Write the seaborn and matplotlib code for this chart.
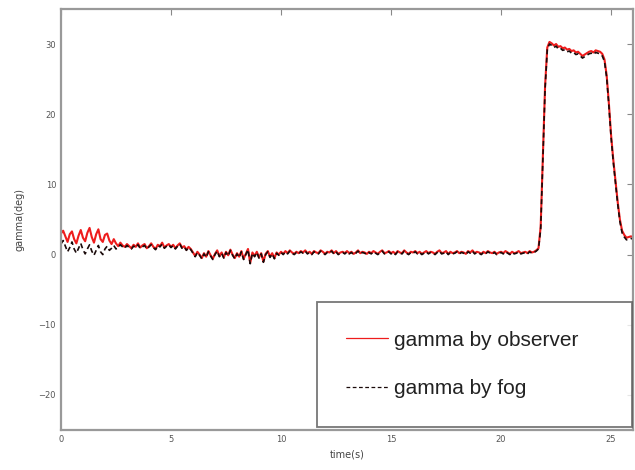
import numpy as np
import pandas as pd
import matplotlib
matplotlib.use("Agg")
import matplotlib.pyplot as plt
import seaborn as sns

# sample times (s), 0.1 s spacing
time_s = [round(0.1 * i, 1) for i in range(261)]

# roll angle estimated by the observer (deg)
gamma_observer = [
    3.0, 3.4, 2.6, 1.8, 2.9, 3.3, 2.2, 1.6, 2.7, 3.5,
    2.4, 1.9, 3.1, 3.8, 2.5, 1.7, 2.9, 3.6, 2.2, 1.8,
    2.8, 3.0, 2.0, 1.5, 2.2, 1.6, 1.2, 1.7, 1.3, 1.1,
    1.5, 1.2, 0.9, 1.4, 1.1, 1.6, 1.0, 1.3, 1.5, 0.9,
    1.2, 1.6, 1.1, 0.8, 1.4, 1.2, 1.7, 1.0, 1.3, 1.5,
    1.1, 1.4, 0.9, 1.3, 1.6, 1.0, 1.2, 0.7, 1.1, 0.8,
    0.3, -0.2, 0.4, 0.0, -0.5, 0.2, -0.3, 0.5, -0.1, -0.6,
    0.1, 0.6, -0.2, 0.3, -0.4, 0.4, -0.1, 0.7, 0.0, -0.5,
    0.2, -0.3, 0.5, -0.6, 0.1, 0.8, -1.2, 0.3, -0.2, 0.4,
    -0.4, 0.2, -1.0, 0.1, 0.5, -0.3, 0.2, -0.5, 0.3, 0.0,
    0.4, 0.1, 0.5, 0.2, 0.6, 0.3, 0.1, 0.4, 0.2, 0.5,
    0.3, 0.6, 0.2, 0.4, 0.1, 0.5, 0.3, 0.2, 0.6, 0.4,
    0.1, 0.4, 0.3, 0.6, 0.2, 0.5, 0.1, 0.3, 0.4, 0.2,
    0.5, 0.2, 0.4, 0.1, 0.3, 0.6, 0.2, 0.4, 0.3, 0.1,
    0.4, 0.2, 0.5, 0.3, 0.1, 0.4, 0.6, 0.2, 0.3, 0.5,
    0.2, 0.4, 0.1, 0.5, 0.3, 0.2, 0.6, 0.3, 0.1, 0.4,
    0.3, 0.5, 0.2, 0.4, 0.1, 0.3, 0.5, 0.2, 0.4, 0.3,
    0.1, 0.4, 0.6, 0.2, 0.3, 0.5, 0.1, 0.4, 0.2, 0.3,
    0.5, 0.2, 0.4, 0.3, 0.1, 0.5, 0.3, 0.6, 0.2, 0.4,
    0.3, 0.1, 0.4, 0.2, 0.5, 0.3, 0.2, 0.4, 0.1, 0.3,
    0.4, 0.2, 0.5, 0.3, 0.1, 0.4, 0.2, 0.3, 0.5, 0.2,
    0.3, 0.4, 0.2, 0.5, 0.3, 0.4, 0.6, 0.9, 4.0, 14.0,
    24.0, 29.5, 30.3, 30.1, 29.8, 30.0, 29.6, 29.7, 29.4, 29.5,
    29.2, 29.3, 29.0, 29.1, 28.8, 28.9, 28.6, 28.3, 28.5, 28.7,
    28.9, 29.0, 28.8, 29.1, 29.0, 28.9, 28.6, 27.8, 25.5, 21.5,
    17.0, 13.5, 10.5, 7.5, 5.0, 3.4, 2.8, 2.4, 2.5, 2.6,
    2.5,
]

# roll angle from the fibre-optic gyro (deg)
gamma_fog = [
    1.5, 2.0, 1.2, 0.4, 1.0, 1.8, 0.8, 0.2, 0.9, 1.6,
    0.7, 0.1, 0.8, 1.4, 0.5, -0.1, 0.6, 1.3, 0.4, 0.0,
    0.8, 1.2, 0.6, 0.9, 1.3, 0.8, 1.0, 1.4, 1.1, 0.9,
    1.3, 1.0, 0.8, 1.2, 1.0, 1.4, 0.9, 1.1, 1.3, 0.8,
    1.1, 1.4, 1.0, 0.7, 1.3, 1.1, 1.5, 0.9, 1.2, 1.4,
    1.0, 1.3, 0.8, 1.2, 1.5, 0.9, 1.1, 0.6, 1.0, 0.7,
    0.2, -0.3, 0.3, -0.1, -0.6, 0.1, -0.4, 0.4, -0.2, -0.7,
    0.0, 0.5, -0.3, 0.2, -0.5, 0.3, -0.2, 0.6, -0.1, -0.6,
    0.1, -0.4, 0.4, -0.7, 0.0, 0.7, -1.3, 0.2, -0.3, 0.3,
    -0.5, 0.1, -1.1, 0.0, 0.4, -0.4, 0.1, -0.6, 0.2, -0.1,
    0.3, 0.0, 0.4, 0.1, 0.5, 0.2, 0.0, 0.3, 0.1, 0.4,
    0.2, 0.5, 0.1, 0.3, 0.0, 0.4, 0.2, 0.1, 0.5, 0.3,
    0.0, 0.3, 0.2, 0.5, 0.1, 0.4, 0.0, 0.2, 0.3, 0.1,
    0.4, 0.1, 0.3, 0.0, 0.2, 0.5, 0.1, 0.3, 0.2, 0.0,
    0.3, 0.1, 0.4, 0.2, 0.0, 0.3, 0.5, 0.1, 0.2, 0.4,
    0.1, 0.3, 0.0, 0.4, 0.2, 0.1, 0.5, 0.2, 0.0, 0.3,
    0.2, 0.4, 0.1, 0.3, 0.0, 0.2, 0.4, 0.1, 0.3, 0.2,
    0.0, 0.3, 0.5, 0.1, 0.2, 0.4, 0.0, 0.3, 0.1, 0.2,
    0.4, 0.1, 0.3, 0.2, 0.0, 0.4, 0.2, 0.5, 0.1, 0.3,
    0.2, 0.0, 0.3, 0.1, 0.4, 0.2, 0.1, 0.3, 0.0, 0.2,
    0.3, 0.1, 0.4, 0.2, 0.0, 0.3, 0.1, 0.2, 0.4, 0.1,
    0.2, 0.3, 0.1, 0.4, 0.2, 0.3, 0.5, 0.8, 3.6, 13.5,
    23.6, 29.2, 30.0, 29.8, 29.5, 29.7, 29.3, 29.4, 29.1, 29.2,
    28.9, 29.0, 28.7, 28.8, 28.5, 28.6, 28.3, 28.0, 28.2, 28.4,
    28.6, 28.7, 28.5, 28.8, 28.7, 28.6, 28.3, 27.5, 25.2, 21.2,
    16.7, 13.2, 10.2, 7.2, 4.7, 3.1, 2.5, 2.1, 2.2, 2.3,
    2.2,
]

x_ticks = [0, 5, 10, 15, 20, 25]
y_ticks = [-20, -10, 0, 10, 20, 30]

df = pd.DataFrame({"time": time_s, "observer": gamma_observer, "fog": gamma_fog})

sns.set_style("white")
plt.rcParams["font.family"] = ["DejaVu Sans"]

fig = plt.figure(figsize=(6.35, 4.70), dpi=100)
ax = fig.add_axes([0.096, 0.085, 0.901, 0.896])

sns.lineplot(data=df, x="time", y="observer", ax=ax, color="#ee1c1c",
             linewidth=1.5, label="gamma by observer")
sns.lineplot(data=df, x="time", y="fog", ax=ax, color="#1a0a0a",
             linewidth=1.2, dashes=False, label="gamma by fog")
ax.lines[1].set_linestyle((0, (3, 2)))

ax.set_xlim(0, 26.0)
ax.set_ylim(-25, 35)
ax.set_xticks(x_ticks)
ax.set_yticks(y_ticks)
ax.tick_params(axis="both", direction="in", length=4, width=0.8,
               colors="#888888", labelcolor="#555555", labelsize=6,
               top=True, right=True)
for s in ax.spines.values():
    s.set_color("#999999")
    s.set_linewidth(1.6)

ax.set_xlabel("time(s)", fontsize=7, color="#444444", labelpad=4)
ax.set_ylabel("gamma(deg)", fontsize=7, color="#444444", labelpad=10)

leg = ax.legend(loc="lower left", bbox_to_anchor=(0.447, 0.007, 0.551, 0.3),
                mode="expand", frameon=True, fancybox=False,
                handlelength=2.0, handletextpad=0.3,
                borderpad=1.4, labelspacing=1.4, borderaxespad=0.0,
                prop={"family": ["Liberation Sans", "DejaVu Sans"], "size": 15})
leg.get_frame().set_edgecolor("#555555")
leg.get_frame().set_linewidth(1.3)
for line in leg.get_lines():
    line.set_linewidth(0.9)
for t in leg.get_texts():
    t.set_color("#222222")

fig.savefig("out.png", dpi=100)
